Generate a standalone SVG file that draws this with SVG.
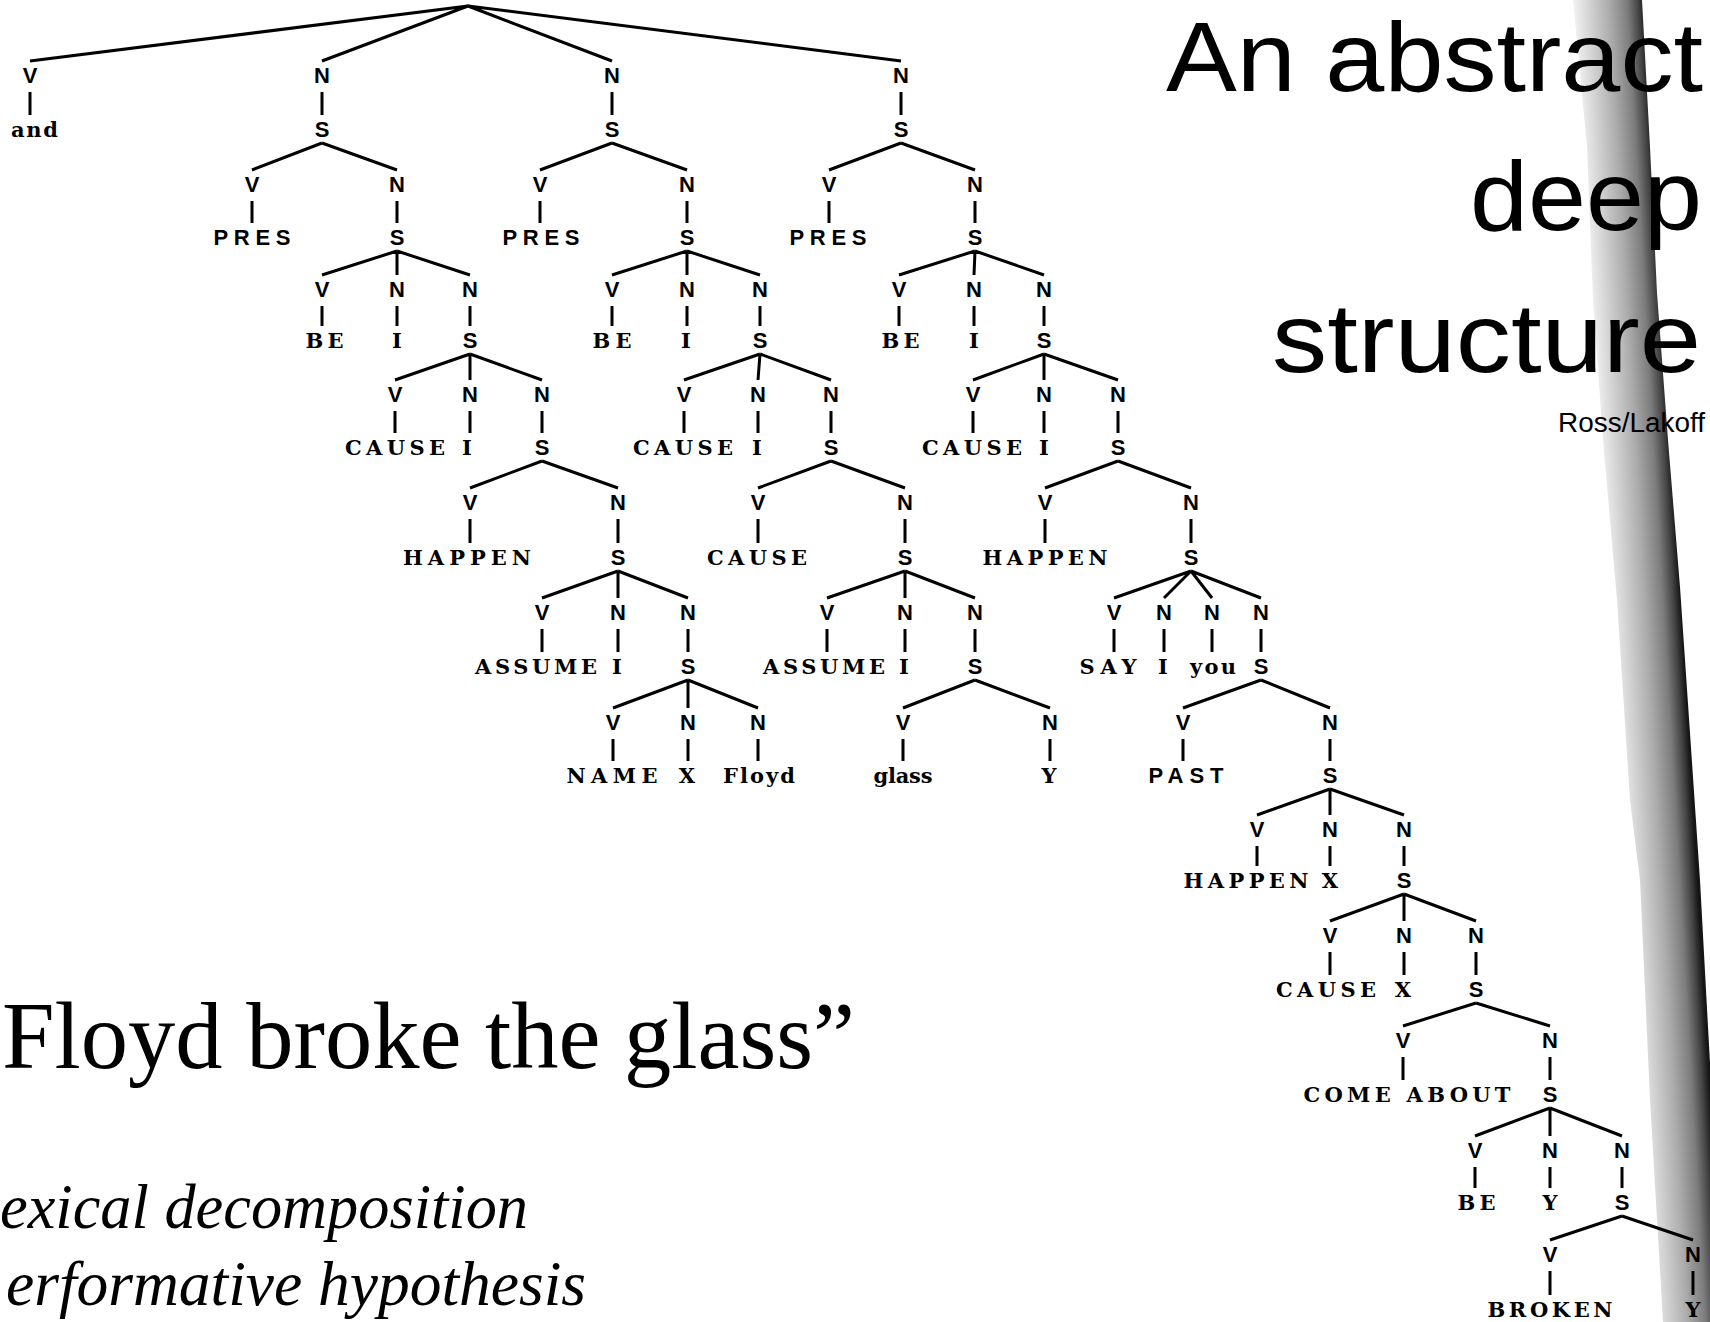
<svg xmlns="http://www.w3.org/2000/svg" width="1710" height="1322" viewBox="0 0 1710 1322">
<style>
.c{font-family:"Liberation Sans",Arial,sans-serif;font-size:22px;font-weight:bold;text-anchor:middle;fill:#000}
.ws{font-family:"Liberation Sans",Arial,sans-serif;font-size:22px;font-weight:bold;fill:#000}
.w{font-family:"DejaVu Serif","Liberation Serif",serif;font-size:21px;font-weight:bold;fill:#000}
.wm{font-family:"DejaVu Serif","Liberation Serif",serif;font-size:21px;font-weight:bold;text-anchor:middle;fill:#000}
.ln{stroke:#000;stroke-width:3;fill:none;stroke-linecap:butt}
.title{font-family:"Liberation Sans",Arial,sans-serif;font-size:99px;fill:#000}
.big{font-family:"Liberation Serif","Times New Roman",serif;fill:#000}
</style>
<defs>
<linearGradient id="shade" gradientUnits="userSpaceOnUse" x1="1573" y1="0" x2="1645" y2="0" gradientTransform="skewX(3.4)">
<stop offset="0" stop-color="#f2f2f2"/>
<stop offset="0.25" stop-color="#cfcfcf"/>
<stop offset="0.5" stop-color="#ababab"/>
<stop offset="0.75" stop-color="#7c7c7c"/>
<stop offset="0.9" stop-color="#444"/>
<stop offset="1" stop-color="#151515"/>
</linearGradient>
</defs>
<rect width="1710" height="1322" fill="#fff"/>
<polygon id="scan-shadow" fill="url(#shade)" points="1573,0 1587,147 1593,300 1603,440 1617,600 1630,800 1640,880 1650,1100 1663,1322 1716,1322 1712,1100 1700,880 1690,733 1680,587 1668,440 1657,293 1650,147 1642,0"/>

<g id="connectors" class="ln">
<path d="M468,6 L30,61 M468,6 L322,61 M468,6 L612,61 M468,6 L901,61"/>
<path d="M322,143 L252,170 M322,143 L397,170"/>
<path d="M397,251 L322,275 M397,251 L397,275 M397,251 L470,275"/>
<path d="M470,354 L395,380 M470,354 L470,380 M470,354 L542,380"/>
<path d="M542,461 L470,488 M542,461 L618,488"/>
<path d="M618,571 L542,598 M618,571 L618,598 M618,571 L688,598"/>
<path d="M688,680 L613,708 M688,680 L688,708 M688,680 L758,708"/>
<path d="M612,143 L540,170 M612,143 L687,170"/>
<path d="M687,251 L612,275 M687,251 L687,275 M687,251 L760,275"/>
<path d="M760,354 L684,380 M760,354 L758,380 M760,354 L831,380"/>
<path d="M831,461 L758,488 M831,461 L905,488"/>
<path d="M905,571 L827,598 M905,571 L905,598 M905,571 L975,598"/>
<path d="M975,680 L903,708 M975,680 L1050,708"/>
<path d="M901,143 L829,170 M901,143 L975,170"/>
<path d="M975,251 L899,275 M975,251 L974,275 M975,251 L1044,275"/>
<path d="M1044,354 L973,380 M1044,354 L1044,380 M1044,354 L1118,380"/>
<path d="M1118,461 L1045,488 M1118,461 L1191,488"/>
<path d="M1191,571 L1114,598 M1191,571 L1164,598 M1191,571 L1212,598 M1191,571 L1261,598"/>
<path d="M1261,680 L1183,708 M1261,680 L1330,708"/>
<path d="M1330,789 L1257,815 M1330,789 L1330,815 M1330,789 L1404,815"/>
<path d="M1404,894 L1330,921 M1404,894 L1404,921 M1404,894 L1476,921"/>
<path d="M1476,1003 L1403,1026 M1476,1003 L1550,1026"/>
<path d="M1550,1108 L1475,1136 M1550,1108 L1550,1136 M1550,1108 L1622,1136"/>
<path d="M1622,1216 L1550,1240 M1622,1216 L1693,1240"/>
<path d="M30,92 V115 M322,92 V115 M612,92 V115 M901,92 V115"/>
<path d="M252,201 V223 M397,201 V223 M540,201 V223 M687,201 V223 M829,201 V223 M975,201 V223"/>
<path d="M322,306 V326 M397,306 V326 M470,306 V326 M612,306 V326 M687,306 V326 M760,306 V326 M899,306 V326 M974,306 V326 M1044,306 V326"/>
<path d="M395,411 V433 M470,411 V433 M542,411 V433 M684,411 V433 M758,411 V433 M831,411 V433 M973,411 V433 M1044,411 V433 M1118,411 V433"/>
<path d="M470,519 V543 M618,519 V543 M758,519 V543 M905,519 V543 M1045,519 V543 M1191,519 V543"/>
<path d="M542,629 V652 M618,629 V652 M688,629 V652 M827,629 V652 M905,629 V652 M975,629 V652 M1114,629 V652 M1164,629 V652 M1212,629 V652 M1261,629 V652"/>
<path d="M613,739 V761 M688,739 V761 M758,739 V761 M903,739 V761 M1050,739 V761 M1183,739 V761 M1330,739 V761"/>
<path d="M1257,846 V866 M1330,846 V866 M1404,846 V866"/>
<path d="M1330,952 V975 M1404,952 V975 M1476,952 V975"/>
<path d="M1403,1057 V1080 M1550,1057 V1080"/>
<path d="M1475,1167 V1188 M1550,1167 V1188 M1622,1167 V1188"/>
<path d="M1550,1271 V1295 M1693,1271 V1295"/>
</g>

<g id="n-and"><text class="c" x="30" y="83">V</text><text class="w" x="11" y="137" textLength="47">and</text></g>
<g id="n-b1-l1"><text class="c" x="322" y="83">N</text><text class="c" x="322" y="137">S</text></g>
<g id="n-b2-l1"><text class="c" x="612" y="83">N</text><text class="c" x="612" y="137">S</text></g>
<g id="n-b3-l1"><text class="c" x="901" y="83">N</text><text class="c" x="901" y="137">S</text></g>

<g id="n-b1-l2-v"><text class="c" x="252" y="192">V</text><text class="ws" x="213.5" y="245" textLength="77">PRES</text></g>
<g id="n-b1-l2-n"><text class="c" x="397" y="192">N</text><text class="c" x="397" y="245">S</text></g>
<g id="n-b2-l2-v"><text class="c" x="540" y="192">V</text><text class="ws" x="502.5" y="245" textLength="77">PRES</text></g>
<g id="n-b2-l2-n"><text class="c" x="687" y="192">N</text><text class="c" x="687" y="245">S</text></g>
<g id="n-b3-l2-v"><text class="c" x="829" y="192">V</text><text class="ws" x="789.5" y="245" textLength="77">PRES</text></g>
<g id="n-b3-l2-n"><text class="c" x="975" y="192">N</text><text class="c" x="975" y="245">S</text></g>

<g id="n-b1-l3-v"><text class="c" x="322" y="297">V</text><text class="w" x="305.5" y="348" textLength="38">BE</text></g>
<g id="n-b1-l3-n1"><text class="c" x="397" y="297">N</text><text class="wm" x="397" y="348">I</text></g>
<g id="n-b1-l3-n2"><text class="c" x="470" y="297">N</text><text class="c" x="470" y="348">S</text></g>
<g id="n-b2-l3-v"><text class="c" x="612" y="297">V</text><text class="w" x="592.5" y="348" textLength="39">BE</text></g>
<g id="n-b2-l3-n1"><text class="c" x="687" y="297">N</text><text class="wm" x="686" y="348">I</text></g>
<g id="n-b2-l3-n2"><text class="c" x="760" y="297">N</text><text class="c" x="760" y="348">S</text></g>
<g id="n-b3-l3-v"><text class="c" x="899" y="297">V</text><text class="w" x="881.5" y="348" textLength="38">BE</text></g>
<g id="n-b3-l3-n1"><text class="c" x="974" y="297">N</text><text class="wm" x="974" y="348">I</text></g>
<g id="n-b3-l3-n2"><text class="c" x="1044" y="297">N</text><text class="c" x="1044" y="348">S</text></g>

<g id="n-b1-l4-v"><text class="c" x="395" y="402">V</text><text class="w" x="345" y="455" textLength="100">CAUSE</text></g>
<g id="n-b1-l4-n1"><text class="c" x="470" y="402">N</text><text class="wm" x="467" y="455">I</text></g>
<g id="n-b1-l4-n2"><text class="c" x="542" y="402">N</text><text class="c" x="542" y="455">S</text></g>
<g id="n-b2-l4-v"><text class="c" x="684" y="402">V</text><text class="w" x="633" y="455" textLength="100">CAUSE</text></g>
<g id="n-b2-l4-n1"><text class="c" x="758" y="402">N</text><text class="wm" x="757" y="455">I</text></g>
<g id="n-b2-l4-n2"><text class="c" x="831" y="402">N</text><text class="c" x="831" y="455">S</text></g>
<g id="n-b3-l4-v"><text class="c" x="973" y="402">V</text><text class="w" x="922" y="455" textLength="100">CAUSE</text></g>
<g id="n-b3-l4-n1"><text class="c" x="1044" y="402">N</text><text class="wm" x="1044" y="455">I</text></g>
<g id="n-b3-l4-n2"><text class="c" x="1118" y="402">N</text><text class="c" x="1118" y="455">S</text></g>

<g id="n-b1-l5-v"><text class="c" x="470" y="510">V</text><text class="w" x="403" y="565" textLength="128">HAPPEN</text></g>
<g id="n-b1-l5-n"><text class="c" x="618" y="510">N</text><text class="c" x="618" y="565">S</text></g>
<g id="n-b2-l5-v"><text class="c" x="758" y="510">V</text><text class="w" x="707" y="565" textLength="100">CAUSE</text></g>
<g id="n-b2-l5-n"><text class="c" x="905" y="510">N</text><text class="c" x="905" y="565">S</text></g>
<g id="n-b3-l5-v"><text class="c" x="1045" y="510">V</text><text class="w" x="982.5" y="565" textLength="125">HAPPEN</text></g>
<g id="n-b3-l5-n"><text class="c" x="1191" y="510">N</text><text class="c" x="1191" y="565">S</text></g>

<g id="n-b1-l6-v"><text class="c" x="542" y="620">V</text><text class="w" x="475" y="674" textLength="122">ASSUME</text></g>
<g id="n-b1-l6-n1"><text class="c" x="618" y="620">N</text><text class="wm" x="617" y="674">I</text></g>
<g id="n-b1-l6-n2"><text class="c" x="688" y="620">N</text><text class="c" x="688" y="674">S</text></g>
<g id="n-b2-l6-v"><text class="c" x="827" y="620">V</text><text class="w" x="763" y="674" textLength="122">ASSUME</text></g>
<g id="n-b2-l6-n1"><text class="c" x="905" y="620">N</text><text class="wm" x="904" y="674">I</text></g>
<g id="n-b2-l6-n2"><text class="c" x="975" y="620">N</text><text class="c" x="975" y="674">S</text></g>
<g id="n-b3-l6-v"><text class="c" x="1114" y="620">V</text><text class="w" x="1079.5" y="674" textLength="57">SAY</text></g>
<g id="n-b3-l6-n1"><text class="c" x="1164" y="620">N</text><text class="wm" x="1163" y="674">I</text></g>
<g id="n-b3-l6-n2"><text class="c" x="1212" y="620">N</text><text class="w" x="1190" y="674" textLength="46">you</text></g>
<g id="n-b3-l6-n3"><text class="c" x="1261" y="620">N</text><text class="c" x="1261" y="674">S</text></g>

<g id="n-b1-l7-v"><text class="c" x="613" y="730">V</text><text class="w" x="566.5" y="783" textLength="91">NAME</text></g>
<g id="n-b1-l7-n1"><text class="c" x="688" y="730">N</text><text class="wm" x="687" y="783">X</text></g>
<g id="n-b1-l7-n2"><text class="c" x="758" y="730">N</text><text class="w" x="723" y="783" textLength="72">Floyd</text></g>
<g id="n-b2-l7-v"><text class="c" x="903" y="730">V</text><text class="w" x="873.5" y="783" textLength="59">glass</text></g>
<g id="n-b2-l7-n"><text class="c" x="1050" y="730">N</text><text class="wm" x="1049" y="783">Y</text></g>
<g id="n-b3-l7-v"><text class="c" x="1183" y="730">V</text><text class="ws" x="1148.5" y="783" textLength="75">PAST</text></g>
<g id="n-b3-l7-n"><text class="c" x="1330" y="730">N</text><text class="c" x="1330" y="783">S</text></g>

<g id="n-l8-v"><text class="c" x="1257" y="837">V</text><text class="w" x="1183.5" y="888" textLength="125">HAPPEN</text></g>
<g id="n-l8-n1"><text class="c" x="1330" y="837">N</text><text class="wm" x="1330" y="888">X</text></g>
<g id="n-l8-n2"><text class="c" x="1404" y="837">N</text><text class="c" x="1404" y="888">S</text></g>

<g id="n-l9-v"><text class="c" x="1330" y="943">V</text><text class="w" x="1276" y="997" textLength="100">CAUSE</text></g>
<g id="n-l9-n1"><text class="c" x="1404" y="943">N</text><text class="wm" x="1403" y="997">X</text></g>
<g id="n-l9-n2"><text class="c" x="1476" y="943">N</text><text class="c" x="1476" y="997">S</text></g>

<g id="n-l10-v"><text class="c" x="1403" y="1048">V</text><text class="w" x="1303.5" y="1102" textLength="207">COME ABOUT</text></g>
<g id="n-l10-n"><text class="c" x="1550" y="1048">N</text><text class="c" x="1550" y="1102">S</text></g>

<g id="n-l11-v"><text class="c" x="1475" y="1158">V</text><text class="w" x="1457.5" y="1210" textLength="38">BE</text></g>
<g id="n-l11-n1"><text class="c" x="1550" y="1158">N</text><text class="wm" x="1550" y="1210">Y</text></g>
<g id="n-l11-n2"><text class="c" x="1622" y="1158">N</text><text class="c" x="1622" y="1210">S</text></g>

<g id="n-l12-v"><text class="c" x="1550" y="1262">V</text><text class="w" x="1487.5" y="1317" textLength="125">BROKEN</text></g>
<g id="n-l12-n"><text class="c" x="1693" y="1262">N</text><text class="wm" x="1693" y="1317">Y</text></g>

<g id="title">
<text class="title" x="1166" y="91" textLength="537" lengthAdjust="spacingAndGlyphs">An abstract</text>
<text class="title" x="1470" y="230" textLength="232" lengthAdjust="spacingAndGlyphs">deep</text>
<text class="title" x="1272" y="372" textLength="429" lengthAdjust="spacingAndGlyphs">structure</text>
<text class="title" x="1558" y="432" style="font-size:27px" textLength="147" lengthAdjust="spacingAndGlyphs">Ross/Lakoff</text>
</g>
<g id="caption">
<text class="big" x="2" y="1068" font-size="95" textLength="853" lengthAdjust="spacingAndGlyphs">Floyd broke the glass”</text>
<text class="big" x="0" y="1228" font-size="63" font-style="italic" textLength="528" lengthAdjust="spacingAndGlyphs">exical decomposition</text>
<text class="big" x="6" y="1305" font-size="63" font-style="italic" textLength="580" lengthAdjust="spacingAndGlyphs">erformative hypothesis</text>
</g>
</svg>
